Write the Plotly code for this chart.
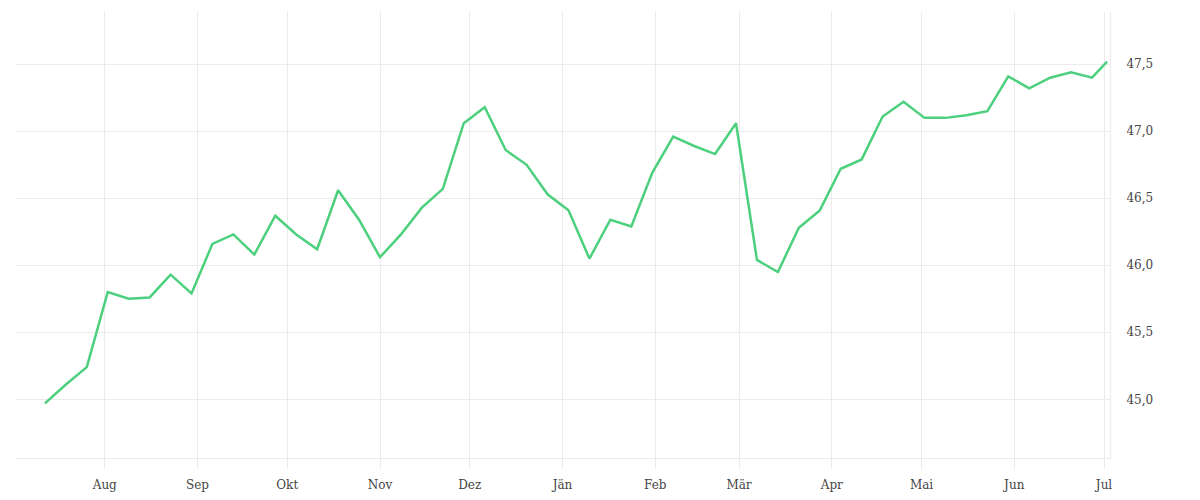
import pandas as pd
import plotly.graph_objects as go

# weekly values
dates = list(pd.date_range('2022-07-12', periods=51, freq='7D').strftime('%Y-%m-%d')) + ['2023-07-02']
values = [44.97, 45.11, 45.24, 45.80, 45.75, 45.76, 45.93, 45.79, 46.16, 46.23,
          46.08, 46.37, 46.23, 46.12, 46.56, 46.34, 46.06, 46.23, 46.43, 46.57,
          47.06, 47.18, 46.86, 46.75, 46.53, 46.41, 46.05, 46.34, 46.29, 46.69,
          46.96, 46.89, 46.83, 47.06, 46.04, 45.95, 46.28, 46.41, 46.72, 46.79,
          47.11, 47.22, 47.10, 47.10, 47.12, 47.15, 47.41, 47.32, 47.40, 47.44,
          47.40, 47.52]

month_ticks = ['2022-08-01', '2022-09-01', '2022-10-01', '2022-11-01', '2022-12-01', '2023-01-01',
               '2023-02-01', '2023-03-01', '2023-04-01', '2023-05-01', '2023-06-01', '2023-07-01']
month_labels = ['Aug', 'Sep', 'Okt', 'Nov', 'Dez', 'Jän', 'Feb', 'Mär', 'Apr', 'Mai', 'Jun', 'Jul']

y_ticks = [45.0, 45.5, 46.0, 46.5, 47.0, 47.5]

grid = '#ebebeb'

fig = go.Figure()
fig.add_trace(go.Scatter(
    x=dates,
    y=values,
    mode='lines',
    line=dict(color='#4cd07d', width=2.5),
    hoverinfo='x+y'
))

# page puts the plot 8px in from the top-left corner, margins account for that
fig.update_layout(
    width=1200,
    height=500,
    margin=dict(l=7, r=98, t=4, b=50),
    plot_bgcolor='white',
    paper_bgcolor='white',
    showlegend=False,
    separators=',.',
    font=dict(family='DejaVu Serif', size=12, color='#444444'),
    xaxis=dict(
        range=['2022-07-02', '2023-07-03'],
        tickvals=month_ticks,
        ticktext=month_labels,
        showgrid=True,
        gridcolor=grid,
        gridwidth=1,
        ticks='outside',
        ticklen=10,
        tickcolor=grid,
        showline=True,
        linecolor=grid,
        linewidth=1,
        zeroline=False,
        ticklabelstandoff=6,
    ),
    yaxis=dict(
        side='right',
        range=[44.562, 47.89],
        tickvals=y_ticks,
        tickformat='.1f',
        showgrid=True,
        gridcolor=grid,
        gridwidth=1,
        showline=True,
        linecolor=grid,
        linewidth=1,
        zeroline=False,
        ticks='',
        ticklabelstandoff=13,
    ),
)

fig.write_html('out.html')
